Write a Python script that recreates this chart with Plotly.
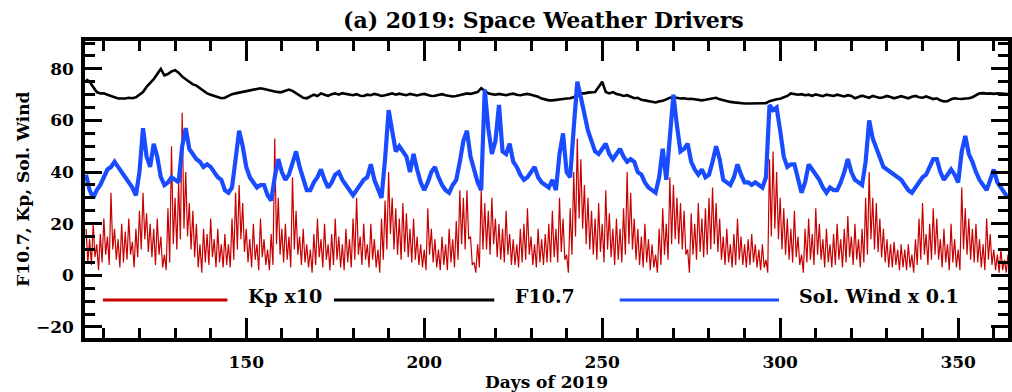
import plotly.graph_objects as go

# ---------------- data ----------------
days = list(range(105, 365))

solar_wind_x01 = [
    39, 33, 30, 33, 35, 38, 41, 42, 44, 42,
    40, 38, 36, 34, 31, 40, 57, 46, 42, 51,
    46, 38, 35, 36, 38, 37, 36, 50, 57, 49,
    47, 45, 44, 42, 43, 42, 40, 38, 37, 33,
    32, 34, 45, 56, 50, 42, 38, 36, 34, 35,
    35, 31, 29, 38, 45, 40, 37, 39, 44, 48,
    42, 37, 33, 33, 36, 38, 41, 37, 34, 36,
    39, 40, 37, 35, 33, 31, 33, 35, 37, 38,
    43, 37, 33, 30, 45, 64, 56, 48, 50, 48,
    46, 40, 47, 41, 36, 33, 36, 40, 42, 38,
    35, 33, 32, 35, 37, 44, 52, 56, 46, 41,
    36, 33, 72, 57, 47, 52, 66, 48, 47, 51,
    44, 42, 39, 37, 38, 40, 42, 38, 36, 35,
    34, 37, 33, 47, 55, 40, 38, 57, 75, 69,
    62, 56, 52, 48, 47, 49, 51, 47, 45, 47,
    49, 46, 44, 45, 44, 40, 39, 36, 34, 33,
    32, 38, 49, 37, 55, 70, 58, 48, 49, 51,
    44, 41, 39, 41, 38, 39, 44, 50, 45, 37,
    36, 35, 38, 43, 39, 36, 36, 35, 36, 35,
    34, 38, 66, 64, 65, 56, 46, 42, 43, 43,
    38, 32, 36, 43, 41, 39, 37, 34, 32, 34,
    33, 33, 36, 40, 45, 40, 37, 36, 35, 44,
    60, 53, 49, 45, 42, 41, 40, 39, 38, 37,
    35, 33, 32, 34, 36, 38, 39, 42, 45, 45,
    40, 37, 39, 41, 39, 36, 48, 54, 47, 44,
    40, 37, 35, 33, 37, 41, 36, 34, 32, 30,
]

f107 = [
    76, 75, 73, 71, 70.5, 70.5, 70, 69.5, 69, 68.5,
    68.5, 68.5, 68.8, 68.6, 69, 70, 71, 73, 74.5, 76,
    78, 80, 77.5, 78, 79, 79.5, 78.5, 77, 76, 75,
    74, 73.5, 72.5, 71.5, 70.5, 70, 69.5, 69, 68.6, 68.8,
    69.5, 70.2, 70.5, 70.8, 71, 71.2, 71.5, 72, 72.3, 72.5,
    72.2, 71.8, 71.5, 71.2, 71, 71, 71.5, 72, 71.5, 70.5,
    69.5, 68.8, 68.6, 69.2, 70, 69.5, 70.5, 70, 69.5, 70.2,
    70.5, 70, 70.6, 70.3, 70, 69.8, 70.2, 69.6, 69.5, 70,
    69.8, 70.3, 70, 69.5, 69.8, 70.2, 70.5, 70, 70.4, 70.1,
    69.8, 70.3, 70, 69.7, 70.1, 70.3, 69.9, 69.5, 69.6, 70,
    70.2, 69.8, 69.5, 69.3, 69.5, 69.8, 70.2, 70.5, 70.3, 70.6,
    71, 72.5, 71.5, 70.5, 70.2, 70, 70.3, 70, 69.8, 70.2,
    70.4, 70, 69.8, 70.1, 70.3, 70, 69.7, 69.2, 68.5, 68,
    67.8, 67.8, 68, 68.2, 68.5, 68.5, 68.6, 69, 69.5, 70.5,
    70.5, 70.8, 70.8, 71, 73, 75, 71, 70.5, 71, 70.3,
    70, 69.5, 69.8, 69.2, 68.6, 68.8, 68, 67.8, 67.5, 67.2,
    67, 67.4, 67.6, 68.2, 68.8, 69, 68.8, 68.5, 68.6, 68.3,
    68.4, 68.2, 68, 67.8, 68, 68.2, 68.5, 68.8, 68.2, 67.8,
    67.5, 67.2, 67, 66.8, 66.7, 66.6, 66.6, 66.6, 66.6, 66.6,
    66.6, 66.7, 67.5, 68, 68.2, 68.4, 69, 69.5, 70.5, 70.3,
    70, 70.2, 69.8, 70, 69.5, 70.1, 69.8, 69.4, 70, 69.7,
    69.5, 70, 69.6, 69.3, 69.8, 69.5, 68.6, 69, 69.6, 69.2,
    68.8, 69.5, 69.2, 68.7, 69, 69.5, 69.1, 68.6, 69, 69.4,
    69, 68.6, 69.2, 69.5, 69, 68.8, 69.3, 68.8, 68.3, 68.6,
    67.8, 67.4, 67.5, 68.2, 68.6, 68.4, 68.3, 68.5, 68.6, 69,
    69.8, 70.5, 70.6, 70.4, 70.5, 70.3, 70.5, 70.4, 70.3, 70.2,
]

# Kp x10: daily highs and daily lows
kp_high = [
    18, 14, 20, 12, 16, 22, 15, 32, 18, 14,
    20, 17, 22, 13, 18, 25, 32, 24, 20, 18,
    22, 15, 8, 26, 50, 30, 36, 63, 40, 28,
    25, 20, 12, 18, 16, 22, 14, 18, 12, 16,
    12, 22, 32, 35, 28, 18, 14, 20, 12, 22,
    14, 10, 16, 53, 30, 18, 20, 15, 38, 25,
    15, 18, 12, 10, 16, 22, 14, 20, 12, 16,
    22, 15, 12, 18, 14, 22, 30, 15, 20, 12,
    20, 14, 10, 22, 29, 40, 30, 26, 22, 28,
    24, 18, 22, 15, 12, 10, 26, 18, 14, 10,
    15, 12, 18, 14, 21, 33, 30, 33, 15, 5,
    12, 33, 28, 25, 30, 22, 20, 18, 25, 16,
    14, 12, 18, 20, 26, 15, 12, 18, 14, 16,
    20, 25, 18, 30, 22, 8, 26, 40, 53, 45,
    35, 30, 25, 22, 28, 20, 33, 24, 18, 22,
    18, 26, 40, 32, 22, 18, 15, 20, 14, 12,
    8, 18, 26, 20, 38, 35, 30, 28, 25, 10,
    24, 20, 28, 22, 26, 30, 34, 28, 22, 15,
    18, 12, 16, 22, 15, 12, 14, 16, 12, 10,
    12, 6, 45, 48, 40, 30, 26, 22, 18, 25,
    15, 8, 18, 22, 16, 26, 20, 14, 18, 12,
    16, 20, 14, 18, 23, 15, 20, 14, 18, 30,
    40, 30, 28, 22, 18, 14, 12, 13, 10, 12,
    10, 12, 8, 14, 22, 28, 16, 20, 26, 22,
    14, 18, 12, 20, 14, 10, 34, 26, 22, 18,
    20, 14, 12, 22, 16, 10, 8, 10, 6, 8,
]
kp_low = [
    5, 4, 7, 2, 5, 8, 4, 10, 6, 3,
    5, 6, 8, 3, 7, 10, 14, 9, 7, 4,
    8, 3, 2, 5, 12, 10, 14, 18, 15, 10,
    7, 3, 1, 5, 4, 7, 3, 5, 3, 4,
    3, 6, 10, 14, 9, 5, 3, 6, 2, 7,
    4, 2, 4, 12, 8, 5, 6, 3, 10, 8,
    4, 5, 3, 1, 4, 7, 3, 6, 2, 4,
    6, 3, 2, 5, 3, 6, 8, 4, 6, 3,
    6, 3, 1, 6, 10, 16, 10, 8, 6, 9,
    7, 5, 6, 4, 3, 2, 8, 5, 3, 2,
    4, 2, 5, 3, 6, 12, 10, 14, 4, 1,
    3, 10, 10, 8, 12, 7, 6, 5, 8, 4,
    4, 3, 5, 6, 8, 4, 3, 5, 4, 5,
    5, 7, 5, 9, 6, 1, 8, 15, 22, 18,
    12, 10, 8, 6, 9, 5, 10, 7, 4, 6,
    5, 8, 12, 10, 6, 4, 3, 5, 2, 3,
    1, 4, 8, 6, 12, 14, 12, 10, 8, 1,
    8, 6, 9, 7, 8, 10, 12, 9, 6, 4,
    5, 3, 4, 6, 4, 3, 4, 5, 3, 2,
    3, 1, 15, 18, 14, 10, 8, 6, 5, 7,
    4, 1, 5, 6, 4, 8, 6, 3, 5, 3,
    4, 6, 3, 5, 7, 4, 6, 3, 5, 8,
    14, 10, 9, 7, 5, 3, 3, 4, 2, 3,
    2, 3, 1, 4, 6, 8, 4, 6, 8, 6,
    3, 5, 2, 5, 3, 2, 10, 8, 6, 5,
    5, 3, 2, 6, 4, 2, 1, 2, 1, 2,
]

x_ticks = [150, 200, 250, 300, 350]
y_ticks = [-20, 0, 20, 40, 60, 80]

assert len(solar_wind_x01) == len(days)
assert len(f107) == len(days)
assert len(kp_high) == len(days) and len(kp_low) == len(days)

# half-day sampling of Kp: high then low within each day
kp_x, kp_y = [], []
for d, hi, lo in zip(days, kp_high, kp_low):
    kp_x += [d, d + 0.5]
    kp_y += [hi, lo]

RED = "#c80000"
BLUE = "#1a4cff"
BLACK = "#000000"
FONT = "DejaVu Serif"

fig = go.Figure()
fig.add_trace(go.Scatter(x=kp_x, y=kp_y, mode="lines",
                         line=dict(color=RED, width=1.2), showlegend=False))
fig.add_trace(go.Scatter(x=days, y=f107, mode="lines",
                         line=dict(color=BLACK, width=2.6), showlegend=False))
fig.add_trace(go.Scatter(x=days, y=solar_wind_x01, mode="lines",
                         line=dict(color=BLUE, width=4.2), showlegend=False))

tickfont = dict(family=FONT, size=17, color="black", weight="bold")

fig.update_layout(
    width=1012, height=392,
    margin=dict(l=85, r=0, t=41, b=54),
    paper_bgcolor="white", plot_bgcolor="white",
    showlegend=False,
    xaxis=dict(
        range=[104.7, 364.0], tickmode="array", tickvals=x_ticks,
        ticks="inside", ticklen=20, tickwidth=3, tickcolor="black",
        showline=True, linewidth=3.5, linecolor="black", mirror="allticks",
        showgrid=False, zeroline=False, tickfont=tickfont, ticklabelstandoff=6,
        minor=dict(dtick=10, tick0=0, ticks="inside", ticklen=10,
                   tickwidth=3, tickcolor="black", showgrid=False),
    ),
    yaxis=dict(
        range=[-24.3, 90.8], tickmode="array", tickvals=y_ticks,
        ticks="inside", ticklen=17, tickwidth=3, tickcolor="black",
        showline=True, linewidth=3.5, linecolor="black", mirror="allticks",
        showgrid=False, zeroline=False, tickfont=tickfont, ticklabelstandoff=4,
        minor=dict(dtick=5, tick0=0, ticks="inside", ticklen=10,
                   tickwidth=3, tickcolor="black", showgrid=False),
    ),
)

# title and axis titles
fig.add_annotation(text="(a) 2019: Space Weather Drivers", xref="paper", yref="paper",
                   x=0.497, y=1.0707, xanchor="center", yanchor="middle", showarrow=False,
                   font=dict(family=FONT, size=22, color="black", weight="bold"))
fig.add_annotation(text="F10.7, Kp, Sol. Wind", xref="paper", yref="paper",
                   x=-0.068, y=0.5, xanchor="center", yanchor="middle", showarrow=False,
                   textangle=-90,
                   font=dict(family=FONT, size=17, color="black", weight="bold"))
fig.add_annotation(text="Days of 2019", xref="paper", yref="paper",
                   x=0.4995, y=-0.148, xanchor="center", yanchor="middle", showarrow=False,
                   font=dict(family=FONT, size=17, color="black", weight="bold"))

# in-plot legend (line segments + labels)
leg_y = 0.128
leg_items = [
    (0.0194, 0.1543, RED, "Kp x10", 0.1748),
    (0.2697, 0.4434, BLACK, "F10.7", 0.4639),
    (0.5793, 0.7519, BLUE, "Sol. Wind x 0.1", 0.7713),
]
for x0, x1, col, label, tx in leg_items:
    fig.add_shape(type="line", xref="paper", yref="paper", x0=x0, x1=x1,
                  y0=leg_y, y1=leg_y, line=dict(color=col, width=3))
    fig.add_annotation(text=label, xref="paper", yref="paper", x=tx, y=0.141,
                       xanchor="left", yanchor="middle", showarrow=False,
                       font=dict(family=FONT, size=19, color="black", weight="bold"))

fig.write_html("out.html")
